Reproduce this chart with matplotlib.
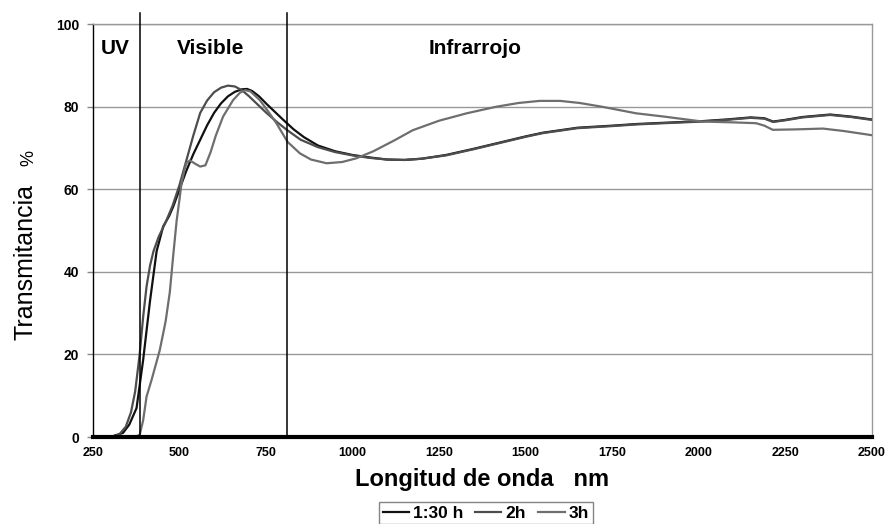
import numpy as np
import matplotlib
matplotlib.use('Agg')
import matplotlib.pyplot as plt

plt.rcParams['font.family'] = ['Liberation Sans', 'DejaVu Sans']

# wavelength (nm) and transmittance (%)
wl_130 = [250, 300, 337, 355, 376, 395, 415, 434, 453, 470, 482, 501, 520, 540,
          560, 580, 600, 620, 640, 660, 680, 695, 710, 730, 750, 775, 800, 830,
          860, 900, 950, 1000, 1050, 1100, 1150, 1200, 1270, 1350, 1400, 1460,
          1500, 1550, 1600, 1650, 1750, 1820, 1900, 2010, 2080, 2150, 2190,
          2215, 2250, 2300, 2380, 2440, 2500]
tr_130 = [0, 0, 1, 3, 7, 18.6, 33, 45, 51, 53.5, 55.8, 60.2, 64.5, 68.5,
          72, 75.5, 78.5, 80.8, 82.5, 83.6, 84.2, 84.3, 83.8, 82.5, 80.8, 78.8,
          76.8, 74.5, 72.6, 70.6, 69.2, 68.3, 67.7, 67.2, 67.1, 67.4, 68.3,
          69.8, 70.8, 72.0, 72.8, 73.7, 74.3, 74.9, 75.4, 75.8, 76.1, 76.5,
          76.9, 77.4, 77.2, 76.4, 76.8, 77.5, 78.1, 77.6, 76.9]

wl_2h = [250, 300, 325, 345, 360, 372, 385, 395, 405, 415, 425, 440, 460, 480,
         500, 520, 540, 560, 580, 600, 620, 640, 660, 680, 700, 720, 750, 780,
         810, 850, 900, 950, 1000, 1050, 1100, 1150, 1200, 1270, 1350, 1400,
         1460, 1500, 1550, 1600, 1650, 1750, 1820, 1900, 2010, 2080, 2150,
         2190, 2215, 2250, 2300, 2380, 2440, 2500]
tr_2h = [0, 0, 0.5, 2.5, 6, 11, 20, 29, 36.5, 41.5, 45, 48.5, 52, 56,
         61, 67, 73, 78.5, 81.5, 83.5, 84.6, 85.1, 84.9, 84.0, 82.6, 81.0,
         78.6, 76.4, 74.4, 72.0, 70.2, 69.0, 68.2, 67.6, 67.2, 67.1, 67.4,
         68.2, 69.7, 70.7, 71.9, 72.7, 73.6, 74.2, 74.8, 75.3, 75.7, 76.0,
         76.4, 76.8, 77.3, 77.1, 76.3, 76.7, 77.4, 78.0, 77.5, 76.8]

wl_3h = [250, 370, 385, 395, 405, 420, 443, 460, 472, 482, 492, 500, 506, 514,
         520, 530, 545, 560, 575, 590, 605, 626, 655, 675, 690, 705, 732, 755,
         780, 812, 848, 880, 925, 970, 1011, 1060, 1120, 1174, 1250, 1330,
         1416, 1480, 1540, 1600, 1656, 1720, 1819, 1900, 2011, 2100, 2166,
         2190, 2214, 2280, 2359, 2420, 2500]
tr_3h = [0, 0, 0.5, 4, 9.8, 14, 21, 28, 35, 44, 52.5, 57.5, 61.5, 64.5,
         66.3, 67, 66.2, 65.5, 65.8, 69, 73, 77.6, 81.6, 83.4, 84, 83.7, 81.6,
         79, 76, 71.5, 68.7, 67.2, 66.3, 66.6, 67.5, 69.2, 71.8, 74.3, 76.6,
         78.4, 80, 80.9, 81.4, 81.4, 80.9, 80.0, 78.4, 77.6, 76.4, 76.2, 76.0,
         75.4, 74.4, 74.5, 74.7, 74.1, 73.1]

series = ['1:30 h', '2h', '3h']
colors = ['#111111', '#4d4d4d', '#6e6e6e']

bounds = [386, 812]      # UV / visible / IR limits
regions = ['UV', 'Visible', 'Infrarrojo']
region_x = [313, 590, 1355]

fig = plt.figure(figsize=(8.85, 5.24), dpi=100)
ax = fig.add_axes([0.105, 0.166, 0.88, 0.788])

for wl, tr, lab, c in [(wl_130, tr_130, series[0], colors[0]),
                       (wl_2h, tr_2h, series[1], colors[1]),
                       (wl_3h, tr_3h, series[2], colors[2])]:
    ax.plot(wl, tr, color=c, lw=1.6, label=lab, zorder=3)

ax.set_xlim(250, 2500)
ax.set_ylim(0, 100)
ax.set_xticks(np.arange(250, 2501, 250))
ax.set_yticks(np.arange(0, 101, 20))
ax.grid(axis='y', color='#999999', lw=1)
ax.set_axisbelow(True)

for b in bounds:
    ax.axvline(b, ymin=0, ymax=1.026, color='black', lw=1.1, clip_on=False, zorder=4)
for r, xr in zip(regions, region_x):
    ax.text(xr, 94, r, ha='center', va='center', fontsize=15, fontweight='bold')

ax.spines['bottom'].set_linewidth(3)
ax.spines['bottom'].set_color('black')
ax.spines['bottom'].set_zorder(5)
ax.spines['left'].set_color('black')
ax.spines['left'].set_linewidth(1)
for s in ['top', 'right']:
    ax.spines[s].set_color('#999999')
    ax.spines[s].set_linewidth(1)

ax.tick_params(axis='x', length=0, pad=7, labelsize=9)
ax.tick_params(axis='y', length=4, width=1, labelsize=10, pad=6, color='#888888')
for lbl in ax.get_xticklabels() + ax.get_yticklabels():
    lbl.set_fontweight('bold')

ax.set_xlabel('Longitud de onda   nm', fontsize=17, fontweight='bold', labelpad=7)
fig.text(0.042, 0.5, 'Transmitancia', rotation=90, ha='right', va='center', fontsize=18)
fig.text(0.042, 0.699, '%', rotation=90, ha='right', va='center', fontsize=13)

leg = fig.legend(loc='upper center', bbox_to_anchor=(0.549, 0.042), ncol=3,
                 frameon=True, fancybox=False, edgecolor='#666666',
                 handlelength=1.5, handletextpad=0.25, columnspacing=0.7,
                 prop={'weight': 'bold', 'size': 12.5}, borderpad=0.2,
                 borderaxespad=0)
leg.get_frame().set_linewidth(1)

fig.savefig('out.png', dpi=100)
